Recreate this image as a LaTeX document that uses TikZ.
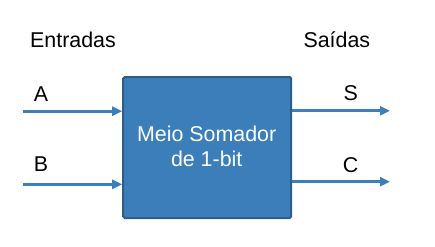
\documentclass[tikz,border=0pt]{standalone}
\usepackage{fontspec}
\setmainfont{Liberation Sans}
\usetikzlibrary{arrows.meta}
\definecolor{boxfill}{HTML}{3B7EBA}
\definecolor{boxline}{HTML}{2C5E8B}
\definecolor{arrowc}{HTML}{3C7FBD}
\begin{document}
\begin{tikzpicture}[x=1pt,y=-1pt,
  lbl/.style={inner sep=0pt,anchor=base,font=\fontsize{21.4}{25}\selectfont},
  wire/.style={draw=arrowc,line width=2.8pt,-{Triangle[length=10pt,width=9pt]}}]
\useasboundingbox (0,0) rectangle (435,246);
\node[draw=boxline,fill=boxfill,line width=2pt,rounded corners=1.5pt,
  minimum width=168pt,minimum height=141pt,inner sep=0pt] (blk) at (207.2,147.5) {};
\node[lbl,text=white] (t1) at (206.7,141.7) {Meio Somador};
\node[lbl,text=white] (t2) at (206.7,166.7) {de 1-bit};
\node[lbl,anchor=base west] (ent) at (30,47.3) {Entradas};
\node[lbl,anchor=base west] (sai) at (303.3,47.3) {Saídas};
\node[lbl] (la) at (41,101.7) {A};
\node[lbl] (lb) at (41,171.7) {B};
\node[lbl] (ls) at (350.7,100.3) {S};
\node[lbl] (lc) at (350.7,172.7) {C};
\coordinate (ain) at (23,111.2);
\coordinate (bin) at (23,184.3);
\coordinate (sout) at (390,110.8);
\coordinate (cout) at (390,181.7);
\draw[wire] (ain) -- (ain -| blk.west);
\draw[wire] (bin) -- (bin -| blk.west);
\draw[wire] (sout -| blk.east) -- (sout);
\draw[wire] (cout -| blk.east) -- (cout);
\end{tikzpicture}
\end{document}
